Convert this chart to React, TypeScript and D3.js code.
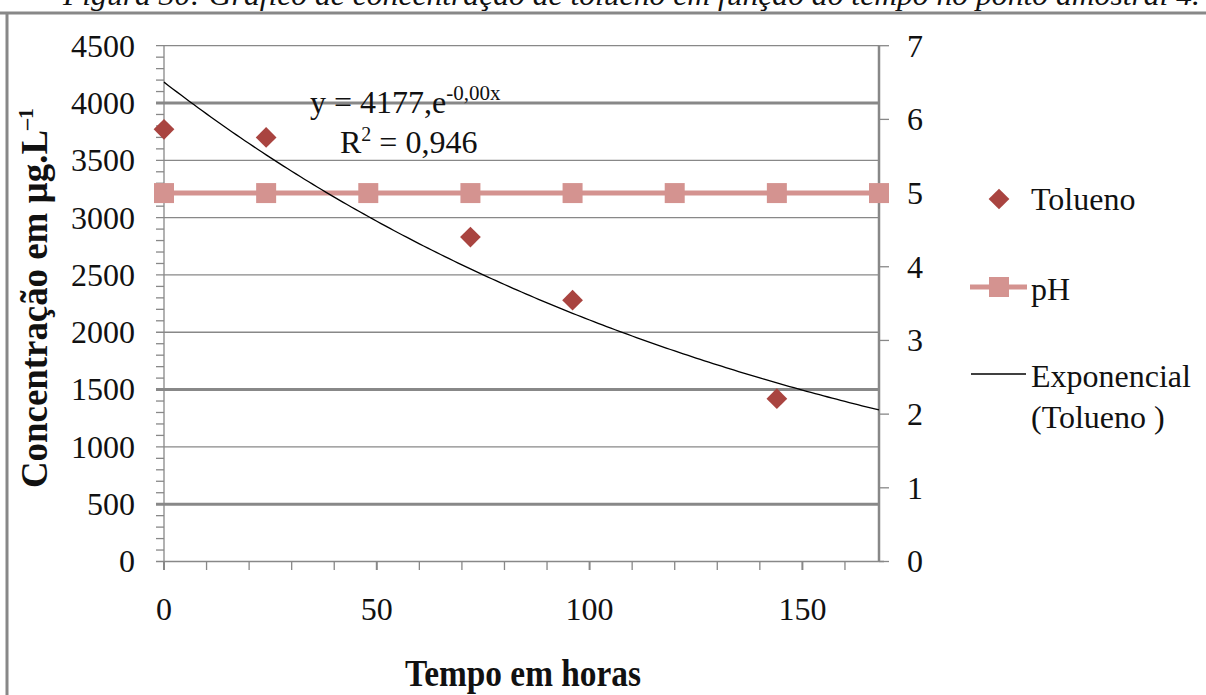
import React from "react";
import * as d3 from "d3";

// ---- data ----
const toluenoHours = [0, 24, 72, 96, 144];
const toluenoValues = [3770, 3700, 2830, 2280, 1420];
const phHours = [0, 24, 48, 72, 96, 120, 144, 168];
const phValues = [5, 5, 5, 5, 5, 5, 5, 5];
const leftTicks = [0, 500, 1000, 1500, 2000, 2500, 3000, 3500, 4000, 4500];
const rightTicks = [0, 1, 2, 3, 4, 5, 6, 7];
const xTickLabels = [0, 50, 100, 150];
const caption = "Figura 30: Gráfico de concentração de tolueno em função do tempo no ponto amostral 4.";
const legendLabels = ["Tolueno", "pH", "Exponencial", "(Tolueno )"];
const equationMain = "y = 4177,e";
const equationExp = "-0,00x";
const rSquared = "0,946";

const SERIF = "'Liberation Serif', 'Times New Roman', serif";
const GRID = "#888888";
const TOL = "#A94440";
const PH = "#D49390";

// Excel-style exponential fit (least squares on ln y)
function expFit(xs: number[], ys: number[]) {
  const ly = ys.map((v) => Math.log(v));
  const mx = d3.mean(xs)!;
  const my = d3.mean(ly)!;
  let sxy = 0, sxx = 0;
  xs.forEach((x, i) => {
    sxy += (x - mx) * (ly[i] - my);
    sxx += (x - mx) * (x - mx);
  });
  const b = sxy / sxx;
  const a = Math.exp(my - b * mx);
  return (x: number) => a * Math.exp(b * x);
}

export default function App() {
  const x = d3.scaleLinear().domain([0, 168]).range([164, 879]);
  const yL = d3.scaleLinear().domain([0, 4500]).range([561.5, 45.7]);
  const yR = d3.scaleLinear().domain([0, 7]).range([561.5, 45.7]);

  const fit = expFit(toluenoHours, toluenoValues);
  const trendPts = d3.range(0, 168.001, 1).map((h) => [h, fit(h)] as [number, number]);
  const trendPath = d3
    .line<[number, number]>()
    .x((d) => x(d[0]))
    .y((d) => yL(d[1]))(trendPts)!;

  const phPath = d3
    .line<number>()
    .x((_, i) => x(phHours[i]))
    .y((d) => yR(d))(phValues)!;

  const diamond = d3.symbol(d3.symbolSquare, 215)()!;
  const square = d3.symbol(d3.symbolSquare, 400)()!;

  const minorY = d3.range(0, 4501, 100).filter((v) => v % 500 !== 0);
  const minorX = d3.range(0, 168, 10);
  const thickGrid = [4000, 1500, 500];

  return (
    <svg
      width={1206}
      height={695}
      style={{ position: "absolute", left: 0, top: 0, background: "#fff" }}
      fontFamily={SERIF}
    >
      <rect x={0} y={0} width={1206} height={695} fill="#fff" />
      {/* caption cut at top */}
      <text x={63} y={5} fontSize={30} fontStyle="italic" textLength={1137} lengthAdjust="spacingAndGlyphs" fill="#111">
        {caption}
      </text>
      {/* outer border */}
      <line x1={0} x2={1206} y1={13} y2={13} stroke={GRID} strokeWidth={3} />
      <line x1={7} x2={7} y1={13} y2={695} stroke={GRID} strokeWidth={3} />

      {/* gridlines */}
      {leftTicks.filter((v) => v > 0).map((v) => (
        <line
          key={"g" + v}
          x1={156}
          x2={879}
          y1={yL(v)}
          y2={yL(v)}
          stroke={GRID}
          strokeWidth={thickGrid.includes(v) ? 3 : 1.3}
        />
      ))}
      {/* left minor ticks */}
      {minorY.map((v) => (
        <line key={"m" + v} x1={156} x2={164} y1={yL(v)} y2={yL(v)} stroke={GRID} strokeWidth={1.3} />
      ))}
      {/* axes */}
      <line x1={164} x2={164} y1={45.7} y2={561.5} stroke={GRID} strokeWidth={1.3} />
      <line x1={156} x2={884} y1={561.5} y2={561.5} stroke={GRID} strokeWidth={1.3} />
      <line x1={879} x2={879} y1={45.7} y2={561.5} stroke={GRID} strokeWidth={2.5} />
      {/* x ticks */}
      {minorX.map((v) => (
        <line
          key={"x" + v}
          x1={x(v)}
          x2={x(v)}
          y1={561.5}
          y2={570}
          stroke={GRID}
          strokeWidth={v % 50 === 0 ? 2 : 1.3}
        />
      ))}
      {/* right ticks */}
      {rightTicks.map((v) => (
        <line key={"r" + v} x1={879} x2={889} y1={yR(v)} y2={yR(v)} stroke={GRID} strokeWidth={1.3} />
      ))}

      {/* tick labels */}
      {leftTicks.map((v) => (
        <text key={"lt" + v} x={135} y={yL(v)} dy="0.34em" textAnchor="end" fontSize={32} fill="#111">
          {v}
        </text>
      ))}
      {rightTicks.map((v) => (
        <text key={"rt" + v} x={907} y={yR(v)} dy="0.34em" textAnchor="start" fontSize={32} fill="#111">
          {v}
        </text>
      ))}
      {xTickLabels.map((v) => (
        <text key={"xt" + v} x={x(v)} y={620} textAnchor="middle" fontSize={32} fill="#111">
          {v}
        </text>
      ))}

      {/* axis titles */}
      <text
        transform="translate(47,488) rotate(-90)"
        fontSize={38}
        fontWeight="bold"
        fill="#111"
      >
        <tspan textLength={358} lengthAdjust="spacingAndGlyphs">Concentração em µg.L</tspan>
        <tspan fontSize={22} dy={-14}>–1</tspan>
      </text>
      <text x={523} y={686} textAnchor="middle" fontSize={38} fontWeight="bold" fill="#111" textLength={236} lengthAdjust="spacingAndGlyphs">
        Tempo em horas
      </text>

      {/* pH series */}
      <path d={phPath} fill="none" stroke={PH} strokeWidth={5} />
      {phValues.map((v, i) => (
        <path key={"ph" + i} d={square} transform={`translate(${x(phHours[i])},${yR(v)})`} fill={PH} />
      ))}

      {/* trendline */}
      <path d={trendPath} fill="none" stroke="#000" strokeWidth={1.3} />

      {/* toluene points */}
      {toluenoValues.map((v, i) => (
        <path
          key={"t" + i}
          d={diamond}
          transform={`translate(${x(toluenoHours[i])},${yL(v)}) rotate(45)`}
          fill={TOL}
        />
      ))}

      {/* equation */}
      <text x={310} y={113} fontSize={32} fill="#111">
        {equationMain}
        <tspan fontSize={21} dy={-13}>{equationExp}</tspan>
      </text>
      <text x={340} y={153} fontSize={32} fill="#111">
        R<tspan fontSize={20} dy={-12}>2</tspan>
        <tspan dy={12}>{" = " + rSquared}</tspan>
      </text>

      {/* legend */}
      <path d={diamond} transform="translate(999,199) rotate(45)" fill={TOL} />
      <text x={1031} y={210} fontSize={32} fill="#111">{legendLabels[0]}</text>
      <line x1={970} x2={1027} y1={287} y2={287} stroke={PH} strokeWidth={5} />
      <path d={square} transform="translate(999,287)" fill={PH} />
      <text x={1031} y={300} fontSize={32} fill="#111">{legendLabels[1]}</text>
      <line x1={971} x2={1026} y1={374} y2={374} stroke="#000" strokeWidth={1.3} />
      <text x={1031} y={387} fontSize={32} fill="#111">{legendLabels[2]}</text>
      <text x={1031} y={428} fontSize={32} fill="#111">{legendLabels[3]}</text>
    </svg>
  );
}
